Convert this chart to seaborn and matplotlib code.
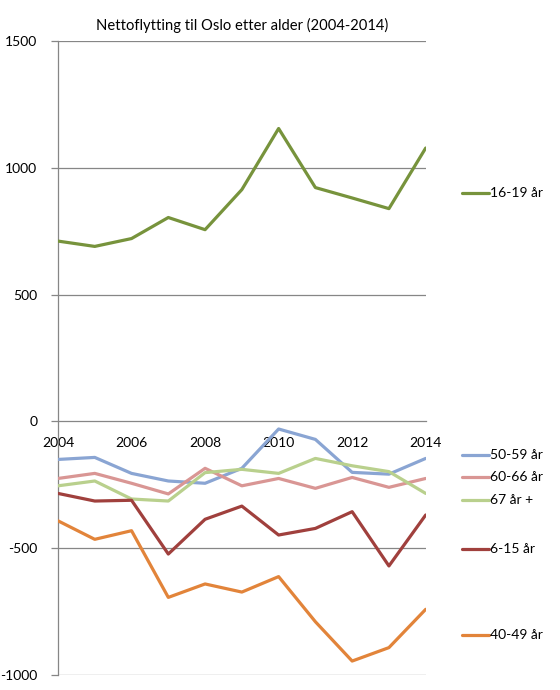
import numpy as np
import pandas as pd
import matplotlib
matplotlib.use("Agg")
import matplotlib.pyplot as plt
from matplotlib.lines import Line2D
import seaborn as sns

# ---- data ----
years = [2004, 2005, 2006, 2007, 2008, 2009, 2010, 2011, 2012, 2013, 2014]
age_16_19 = [711, 690, 721, 804, 756, 914, 1155, 922, 881, 839, 1078]
age_50_59 = [-150, -142, -205, -235, -244, -185, -30, -71, -201, -208, -146]
age_60_66 = [-225, -205, -244, -286, -185, -254, -225, -264, -221, -260, -225]
age_67p = [-254, -235, -306, -314, -202, -189, -205, -146, -175, -198, -284]
age_6_15 = [-284, -314, -311, -523, -386, -334, -448, -422, -356, -570, -369]
age_40_49 = [-392, -465, -431, -694, -641, -673, -612, -790, -945, -892, -741]
series_names = ["16-19 år", "50-59 år", "60-66 år", "67 år +", "6-15 år", "40-49 år"]
title = "Nettoflytting til Oslo etter alder (2004-2014)"
yticks = [-1000, -500, 0, 500, 1000, 1500]
xticks = [2004, 2006, 2008, 2010, 2012, 2014]

values = [age_16_19, age_50_59, age_60_66, age_67p, age_6_15, age_40_49]
df = pd.DataFrame({
    "year": np.tile(years, len(series_names)),
    "value": np.concatenate(values),
    "series": np.repeat(series_names, len(years)),
})

# ---- style ----
colors = ["#77933C", "#8AA5D3", "#D99694", "#B9D08D", "#A0403D", "#E2843A"]
palette = dict(zip(series_names, colors))
legend_y_px = [193.3, 454.7, 477.0, 500.3, 549.0, 635.3]

sns.set_style("white")
plt.rcParams["font.family"] = ["Lato", "DejaVu Sans"]

W, H = 560, 690
fig = plt.figure(figsize=(W / 100, H / 100), dpi=100)
ax = fig.add_axes([58 / W, 1 - 675 / H, (425.7 - 58) / W, (675 - 41) / H])

sns.lineplot(data=df, x="year", y="value", hue="series", palette=palette,
             linewidth=2.3, legend=False, ax=ax, zorder=3)

ax.set_xlim(2004, 2014)
ax.set_ylim(-1000, 1500)
ax.set_yticks(yticks)
ax.set_xticks(xticks)
ax.set_xticklabels([str(x) for x in xticks])
ax.set_yticklabels([str(y) for y in yticks])
ax.set_xlabel("")
ax.set_ylabel("")

grid_c = "#868686"
for y in yticks:
    if y != 0:
        ax.axhline(y, color=grid_c, linewidth=0.9, zorder=1)
ax.spines["top"].set_visible(False)
ax.spines["right"].set_visible(False)
ax.spines["left"].set_color(grid_c)
ax.spines["left"].set_linewidth(0.9)
ax.spines["bottom"].set_position(("data", 0))
ax.spines["bottom"].set_color(grid_c)
ax.spines["bottom"].set_linewidth(0.9)
ax.spines["bottom"].set_zorder(2)

ax.tick_params(axis="x", direction="out", length=4, width=0.9, color=grid_c,
               pad=7, labelsize=10, labelcolor="#000000")
ax.tick_params(axis="y", direction="out", length=5, width=0.9, color=grid_c,
               pad=10, labelsize=10, labelcolor="#000000", left=True)

ax.set_title(title, fontsize=10.6, pad=8, color="#000000")

# legend entries on the right
for name, c, ypx in zip(series_names, colors, legend_y_px):
    yf = 1 - ypx / H
    fig.add_artist(Line2D([462 / W, 489 / W], [yf, yf], color=c, linewidth=2.3,
                          transform=fig.transFigure))
    fig.text(490 / W, yf, name, fontsize=10, va="center", ha="left", color="#000000")

fig.savefig("out.png", dpi=100, facecolor="white")
